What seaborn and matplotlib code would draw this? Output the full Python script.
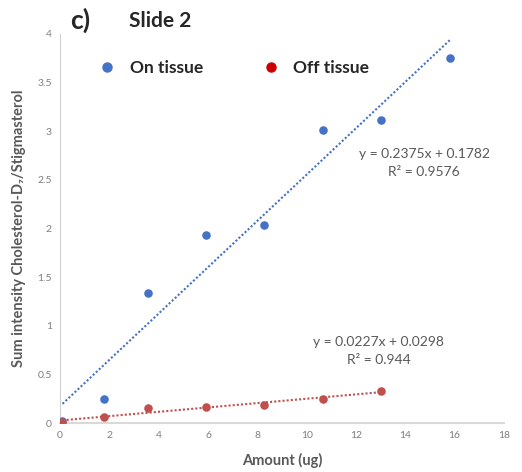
import numpy as np
import pandas as pd
import seaborn as sns
import matplotlib
matplotlib.use("Agg")
import matplotlib.pyplot as plt
from matplotlib.lines import Line2D

# Data
amount_on = [0.1, 1.78, 3.57, 5.92, 8.27, 10.66, 13.0, 15.8]
on_tissue = [0.02, 0.25, 1.34, 1.93, 2.04, 3.01, 3.12, 3.75]
amount_off = [0.1, 1.78, 3.57, 5.92, 8.27, 10.66, 13.0]
off_tissue = [0.01, 0.06, 0.15, 0.16, 0.19, 0.25, 0.33]
eq_on = ["y = 0.2375x + 0.1782", "R² = 0.9576"]
eq_off = ["y = 0.0227x + 0.0298", "R² = 0.944"]
x_ticks = list(range(0, 19, 2))
y_ticks = [0, 0.5, 1, 1.5, 2, 2.5, 3, 3.5, 4]

sns.set_style("white")
plt.rcParams['font.family'] = ['Lato', 'DejaVu Sans']

blue = "#4472C4"
red = "#C0504D"
grey = "#595959"

fig = plt.figure(figsize=(5.22, 4.72), dpi=100)
ax = fig.add_axes([0.115, 0.1038, 0.8505, 0.8242])

df_on = pd.DataFrame({"x": amount_on, "y": on_tissue})
df_off = pd.DataFrame({"x": amount_off, "y": off_tissue})

for df, c in [(df_on, blue), (df_off, red)]:
    sns.regplot(data=df, x="x", y="y", ax=ax, ci=None, color=c,
                scatter_kws=dict(s=38, linewidths=0, zorder=3, alpha=1),
                line_kws=dict(linestyle=(0, (1, 1)), linewidth=1.5, zorder=2))

ax.set_xlim(0, 18)
ax.set_ylim(0, 4)
ax.set_xticks(x_ticks)
ax.set_yticks(y_ticks)
ax.set_xticklabels([str(t) for t in x_ticks])
ax.set_yticklabels([f"{t:g}" for t in y_ticks])
ax.tick_params(axis='both', length=0, labelsize=7.5, colors="#7f7f7f", pad=6)
for s in ["top", "right"]:
    ax.spines[s].set_visible(False)
ax.spines["left"].set_color("#d0d0d0")
ax.spines["left"].set_linewidth(0.8)
ax.spines["bottom"].set_color("#d9d9d9")
ax.spines["bottom"].set_linewidth(1.5)

ax.set_xlabel("Amount (ug)", fontsize=10.5, fontweight="bold", color=grey, labelpad=9)
ax.set_ylabel("Sum intensity Cholesterol-D₇/Stigmasterol", fontsize=10.5,
              fontweight="bold", color=grey, labelpad=8)

ax.text(0.82, 0.668, eq_on[0] + "\n" + eq_on[1], transform=ax.transAxes,
        ha="center", va="center", fontsize=10, color=grey, linespacing=1.55)
ax.text(0.718, 0.185, eq_off[0] + "\n" + eq_off[1], transform=ax.transAxes,
        ha="center", va="center", fontsize=10, color=grey, linespacing=1.55)

fig.text(0.135, 0.957, "c)", fontsize=19, fontweight="bold", ha="left", va="center")
fig.text(0.248, 0.955, "Slide 2", fontsize=15, fontweight="bold", ha="left", va="center")

handles = [Line2D([], [], marker='o', linestyle='none', color=blue, markersize=6.5, label="On tissue"),
           Line2D([], [], marker='o', linestyle='none', color="#CC0000", markersize=6.5, label="Off tissue")]
leg = ax.legend(handles=handles, ncol=2, frameon=False, loc="center",
                bbox_to_anchor=(0.392, 0.913), prop=dict(weight="bold", size=12.5),
                columnspacing=3.4, handletextpad=0.8, handlelength=1.0)

fig.savefig("out.png", dpi=100)
